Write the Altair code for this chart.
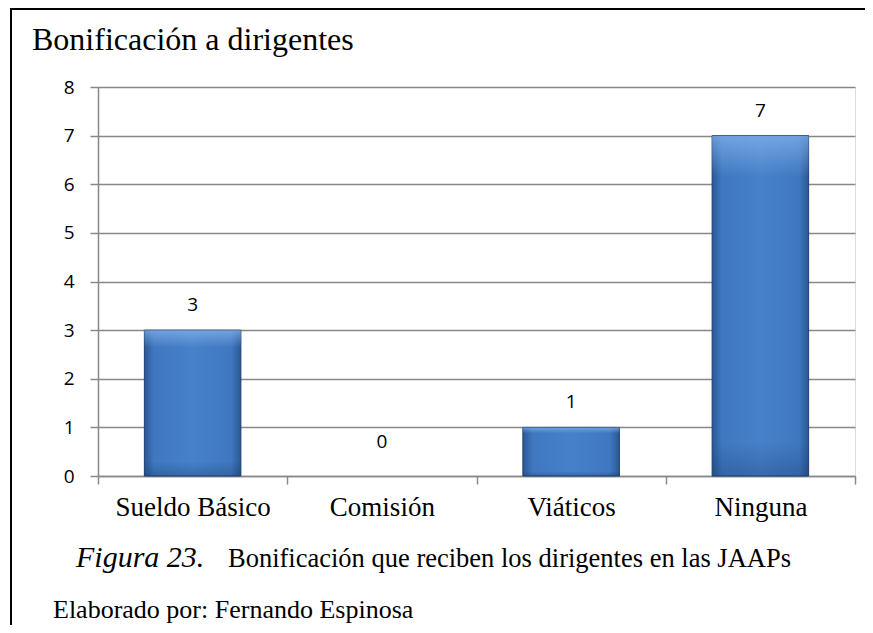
import altair as alt
import pandas as pd

categories = ["Sueldo Básico", "Comisión", "Viáticos", "Ninguna"]
values = [3, 0, 1, 7]
y_ticks = [0, 1, 2, 3, 4, 5, 6, 7, 8]

title_text = "Bonificación a dirigentes"
caption_fig = "Figura 23."
caption_text = "Bonificación que reciben los dirigentes en las JAAPs"
credit_text = "Elaborado por: Fernando Espinosa"

df = pd.DataFrame({"cat": categories, "val": values})

W, H = 757, 389
SERIF = "'Liberation Serif', 'Times New Roman', Times, serif"
SANS = "'Open Sans', 'Liberation Sans', sans-serif"

x_enc = alt.X("cat:N", sort=categories,
              scale=alt.Scale(paddingInner=0, paddingOuter=0),
              axis=alt.Axis(title=None, labelAngle=0, labelFont=SERIF, labelFontSize=27,
                            labelColor="black", labelPadding=10, tickBand="extent",
                            ticks=True, tickSize=8, tickColor="#888888", tickWidth=1.5,
                            domainColor="#888888", domainWidth=1.5, grid=False))
y_enc = alt.Y("val:Q", scale=alt.Scale(domain=[0, 8]),
              axis=alt.Axis(title=None, values=y_ticks, labelFont=SANS, labelFontSize=19,
                            labelColor="black", labelPadding=16, tickSize=8,
                            tickColor="#888888", tickWidth=1.5, domainColor="#888888",
                            domainWidth=1.5, gridColor="#888888", gridWidth=1.5))

grad_h = alt.Gradient(gradient="linear", x1=0, x2=1, y1=0, y2=0, stops=[
    alt.GradientStop(color="#2a5894", offset=0),
    alt.GradientStop(color="#3f78c0", offset=0.1),
    alt.GradientStop(color="#4781c9", offset=0.5),
    alt.GradientStop(color="#3f78c0", offset=0.9),
    alt.GradientStop(color="#2a5894", offset=1),
])
grad_v = alt.Gradient(gradient="linear", x1=0, x2=0, y1=0, y2=1, stops=[
    alt.GradientStop(color="rgba(140,185,240,0.65)", offset=0),
    alt.GradientStop(color="rgba(140,185,240,0.0)", offset=0.12),
    alt.GradientStop(color="rgba(20,50,100,0.0)", offset=0.9),
    alt.GradientStop(color="rgba(20,50,100,0.3)", offset=1),
])

base = alt.Chart(df)
bars = base.mark_bar(width=alt.RelativeBandSize(0.51), color=grad_h,
                     stroke="#1f3f70", strokeWidth=1).encode(
    x=x_enc, y=y_enc).transform_filter("datum.val > 0")
bars_v = base.mark_bar(width=alt.RelativeBandSize(0.51), color=grad_v).encode(
    x=alt.X("cat:N", sort=categories), y="val:Q").transform_filter("datum.val > 0")
labels = base.mark_text(font=SANS, fontSize=19, baseline="alphabetic", dy=-19,
                        color="black").encode(x=alt.X("cat:N", sort=categories),
                                              y="val:Q", text="val:Q"
                                              ).transform_filter("datum.val > 0")
labels_zero = base.mark_text(font=SANS, fontSize=19, baseline="alphabetic", dy=-28,
                             color="black").encode(x=alt.X("cat:N", sort=categories),
                                                   y="val:Q", text="val:Q"
                                                   ).transform_filter("datum.val == 0")

frame_top = alt.Chart(df).mark_rule(color="black", strokeWidth=2).encode(
    x=alt.value(-88), x2=alt.value(W + 10), y=alt.value(-78))
frame_left = alt.Chart(df).mark_rule(color="black", strokeWidth=2).encode(
    x=alt.value(-87), y=alt.value(-79), y2=alt.value(H + 149))

title_mark = alt.Chart(pd.DataFrame({"t": [title_text]})).mark_text(
    font=SERIF, fontSize=32, align="left", baseline="alphabetic", color="black").encode(
    x=alt.value(-66), y=alt.value(-37), text="t:N")
fig_mark = alt.Chart(pd.DataFrame({"t": [caption_fig]})).mark_text(
    font=SERIF, fontSize=30, fontStyle="italic", align="left",
    baseline="alphabetic", color="black").encode(
    x=alt.value(-22), y=alt.value(H + 91), text="t:N")
cap_mark = alt.Chart(pd.DataFrame({"t": [caption_text]})).mark_text(
    font=SERIF, fontSize=26.5, align="left", baseline="alphabetic", color="black").encode(
    x=alt.value(130), y=alt.value(H + 91), text="t:N")
credit_mark = alt.Chart(pd.DataFrame({"t": [credit_text]})).mark_text(
    font=SERIF, fontSize=26, align="left", baseline="alphabetic", color="black").encode(
    x=alt.value(-45), y=alt.value(H + 142), text="t:N")

chart = alt.layer(bars, bars_v, labels, labels_zero, frame_top, frame_left, title_mark,
                  fig_mark, cap_mark, credit_mark).properties(
    width=W, height=H,
    autosize=alt.AutoSizeParams(type="none"),
    padding={"left": 90, "top": 79, "right": 10, "bottom": 149},
).configure_view(stroke=None).configure(background="white")

chart.save("out.html", embed_options={"renderer": "svg", "actions": False})
